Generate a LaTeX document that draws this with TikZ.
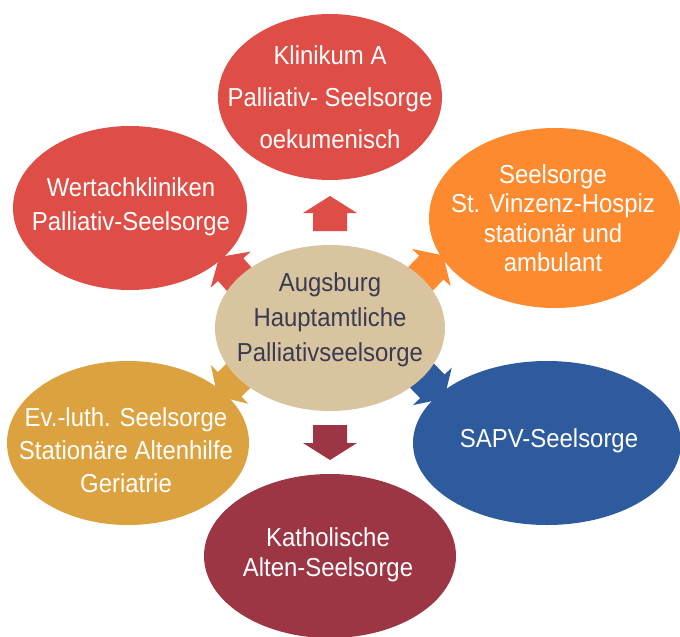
\documentclass[tikz,border=0pt]{standalone}
\usepackage{fontspec}
\setmainfont{Liberation Sans}[FakeStretch=0.92]

\definecolor{klinikred}{HTML}{DE4E46}
\definecolor{hospizorange}{HTML}{FD8A2E}
\definecolor{sapvblue}{HTML}{2D5B9D}
\definecolor{altengold}{HTML}{DBA23F}
\definecolor{katholred}{HTML}{9C3544}
\definecolor{centerbeige}{HTML}{D8C59F}
\definecolor{centertext}{HTML}{3A3A52}

\begin{document}
\begin{tikzpicture}[x=1pt, y=-1pt,
	label text/.style={align=center, text=white, inner sep=0pt},
	pics/blockarrow/.style={code={
		\fill (-17.5,-17) -- (0.5,-17) -- (0.5,-27) -- (17.5,0) -- (0.5,27) -- (0.5,17) -- (-17.5,17) -- cycle;
	}}]
	\useasboundingbox (0,0) rectangle (680,637);

	% arrows first, the ellipses hide parts of them
	\pic[fill=klinikred, rotate=90] at (330,213.5) {blockarrow};
	\pic[fill=katholred, rotate=-90] at (330,442.5) {blockarrow};
	\pic[fill=klinikred, rotate=132] at (231,270) {blockarrow};
	\pic[fill=hospizorange, rotate=46] at (431,268) {blockarrow};
	\pic[fill=altengold, rotate=224] at (230,384) {blockarrow};
	\pic[fill=sapvblue, rotate=-46] at (432,386) {blockarrow};

	% ellipses
	\fill[klinikred] (330,97) ellipse [x radius=112, y radius=83];
	\fill[klinikred] (130,208) ellipse [x radius=117, y radius=82];
	\fill[hospizorange] (555,218) ellipse [x radius=126, y radius=90];
	\fill[altengold] (128,443) ellipse [x radius=121, y radius=82];
	\fill[sapvblue] (547,443) ellipse [x radius=134, y radius=82];
	\fill[katholred] (330,556) ellipse [x radius=126, y radius=82];
	\fill[centerbeige] (330,328) ellipse [x radius=115, y radius=83];

	% texts
	\node[label text, font=\fontsize{26}{42}\selectfont] (klinikum) at (330,97)
		{Klinikum A\\Palliativ- Seelsorge\\oekumenisch};
	\node[label text, font=\fontsize{26}{34}\selectfont] (wertach) at (131,207)
		{Wertachkliniken\\Palliativ-Seelsorge};
	\node[label text, font=\fontsize{26}{29.5}\selectfont] (hospiz) at (553,218)
		{Seelsorge\\St. Vinzenz-Hospiz\\station\"ar und\\ambulant};
	\node[label text, font=\fontsize{26}{33}\selectfont] (alten) at (126,450)
		{Ev.-luth. Seelsorge\\Station\"are Altenhilfe\\Geriatrie};
	\node[label text, font=\fontsize{26}{30}\selectfont] (sapv) at (549,441)
		{SAPV-Seelsorge};
	\node[label text, font=\fontsize{26}{30}\selectfont] (kathol) at (328,555)
		{Katholische\\Alten-Seelsorge};
	\node[label text, text=centertext, font=\fontsize{26}{35}\selectfont] (center) at (330,320)
		{Augsburg\\Hauptamtliche\\Palliativseelsorge};
\end{tikzpicture}
\end{document}
